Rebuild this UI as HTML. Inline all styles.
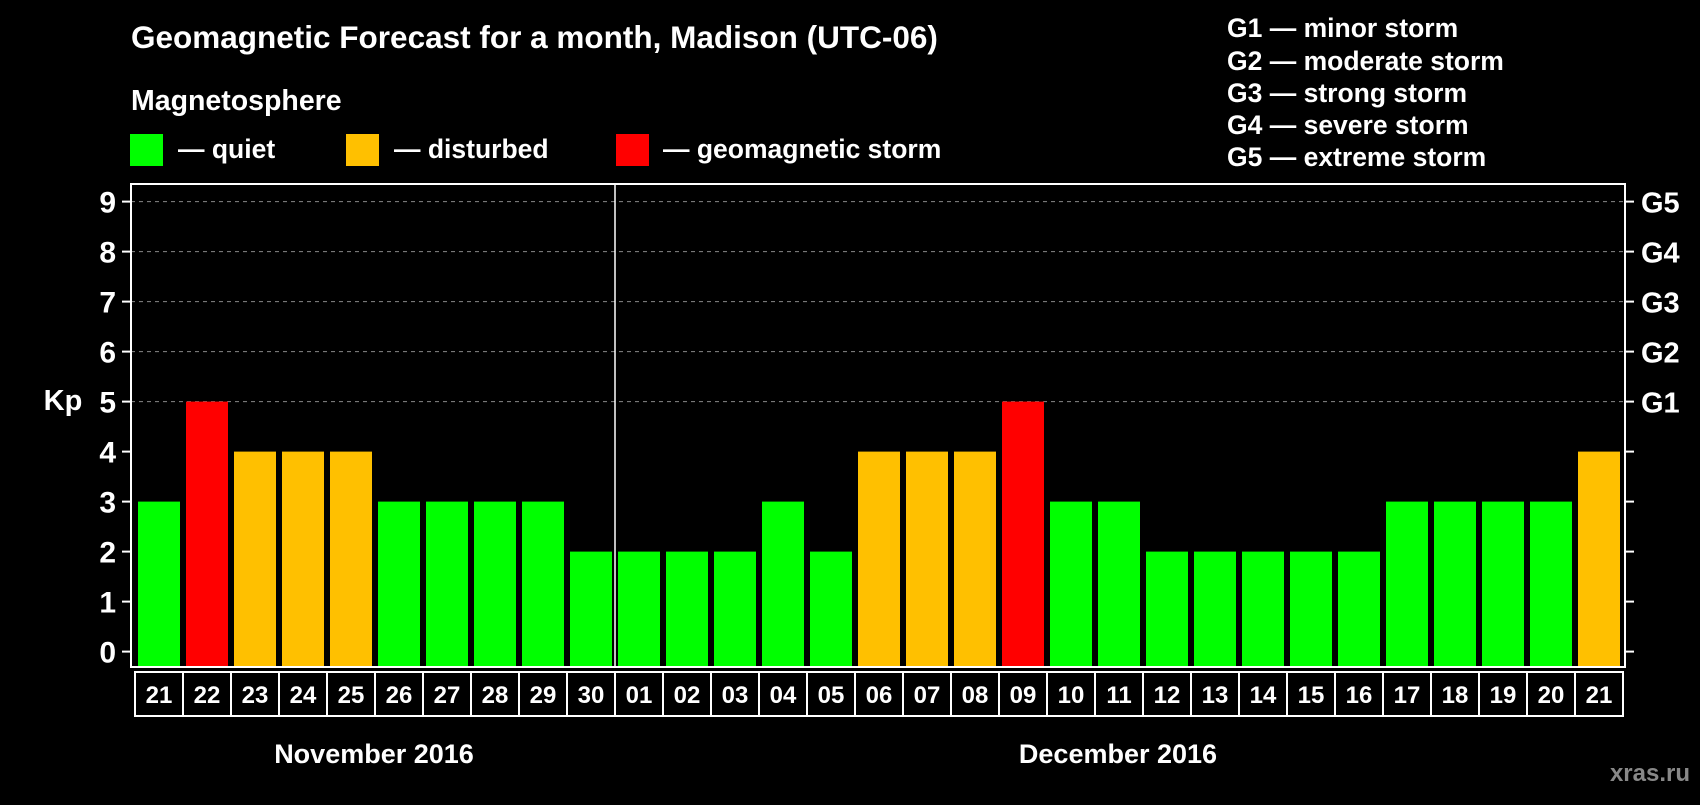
<!DOCTYPE html>
<html><head><meta charset="utf-8"><style>
body{margin:0;background:#000;}
svg text{font-family:"Liberation Sans",sans-serif;font-weight:bold;fill:#fff;}
</style></head><body>
<svg id="chart" width="1700" height="800" viewBox="0 0 1700 800" xmlns="http://www.w3.org/2000/svg">
<rect width="1700" height="800" fill="#000"/>
<text x="131" y="48" font-size="31.5">Geomagnetic Forecast for a month, Madison (UTC-06)</text>
<text x="131" y="110" font-size="28.5">Magnetosphere</text>
<g><rect x="130" y="134" width="33" height="32" fill="#00ff00"/><text x="178" y="158" font-size="26.5">— quiet</text></g>
<g><rect x="346" y="134" width="33" height="32" fill="#ffc000"/><text x="394" y="158" font-size="26.5">— disturbed</text></g>
<g><rect x="616" y="134" width="33" height="32" fill="#ff0000"/><text x="663" y="158" font-size="26.5">— geomagnetic storm</text></g>
<g font-size="26.5">
<text x="1227" y="37">G1 — minor storm</text>
<text x="1227" y="70">G2 — moderate storm</text>
<text x="1227" y="102">G3 — strong storm</text>
<text x="1227" y="134">G4 — severe storm</text>
<text x="1227" y="166">G5 — extreme storm</text>
</g>
<g id="grid"></g><g id="bars"></g>
<rect x="131" y="184" width="1494" height="483" fill="none" stroke="#fff" stroke-width="2"/>
<line x1="615" y1="184" x2="615" y2="667" stroke="#fff" stroke-width="1.5"/>
<g id="axes"></g><g id="dates"></g>
<text x="63" y="410" font-size="29" text-anchor="middle">Kp</text>
<text x="374" y="763" font-size="27" text-anchor="middle">November 2016</text>
<text x="1118" y="763" font-size="27" text-anchor="middle">December 2016</text>
<text x="1690" y="781" font-size="24" text-anchor="end" style="fill:#888">xras.ru</text>
</svg>
<script>
const days=["21","22","23","24","25","26","27","28","29","30","01","02","03","04","05","06","07","08","09","10","11","12","13","14","15","16","17","18","19","20","21"];
const kp=[3,5,4,4,4,3,3,3,3,2,2,2,2,3,2,4,4,4,5,3,3,2,2,2,2,2,3,3,3,3,4];
const yTicks=[0,1,2,3,4,5,6,7,8,9];
const gLabels=["G1","G2","G3","G4","G5"];
const gLevels=[5,6,7,8,9];
const NS="http://www.w3.org/2000/svg";
const y=v=>651.6-v*50;
const x=i=>135+i*48;
const col=v=>v>=5?"#ff0000":(v>=4?"#ffc000":"#00ff00");
function mk(t,a,p){const e=document.createElementNS(NS,t);for(const k in a)e.setAttribute(k,a[k]);p.appendChild(e);return e;}
const grid=document.getElementById("grid"),bars=document.getElementById("bars"),axes=document.getElementById("axes"),dates=document.getElementById("dates");
gLevels.forEach((v,i)=>{
 const l=mk("line",{x1:131,x2:1625,y1:y(v),y2:y(v),stroke:"#888","stroke-dasharray":"4 4","stroke-width":1},grid);
 
 
 const t=mk("text",{x:1641,y:y(v)+11,"font-size":29},axes);t.textContent=gLabels[i];
 
 
});
yTicks.forEach(v=>{
 mk("line",{x1:122,x2:131,y1:y(v),y2:y(v),stroke:"#fff","stroke-width":2},axes);
 mk("line",{x1:1625,x2:1634,y1:y(v),y2:y(v),stroke:"#fff","stroke-width":2},axes);
 const t=mk("text",{x:116,y:y(v)+11,"font-size":30,"text-anchor":"end"},axes);t.textContent=v;
 
 
});
kp.forEach((v,i)=>{
 const r=mk("rect",{x:x(i)+3,y:y(v),width:42,height:667-y(v),fill:col(v)},bars);
 
 
 const b=mk("rect",{x:x(i),y:672,width:48,height:44,fill:"none",stroke:"#fff","stroke-width":2},dates);
 
 
 const t=mk("text",{x:x(i)+24,y:703,"font-size":24,"text-anchor":"middle"},dates);t.textContent=days[i];
 
 
});
</script>
</body></html>
